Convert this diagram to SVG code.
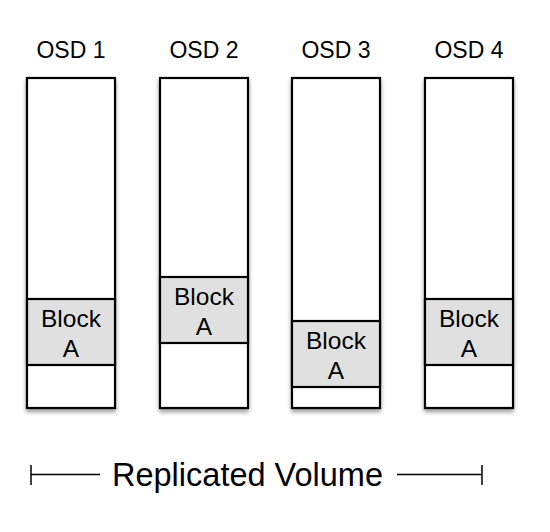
<svg xmlns="http://www.w3.org/2000/svg" width="550" height="532" viewBox="0 0 550 532">
<defs>
<filter id="sh" x="-20%" y="-20%" width="140%" height="140%">
<feGaussianBlur in="SourceAlpha" stdDeviation="2"/>
<feOffset dx="0" dy="3" result="b"/>
<feComponentTransfer><feFuncA type="linear" slope="0.4"/></feComponentTransfer>
<feMerge><feMergeNode/><feMergeNode in="SourceGraphic"/></feMerge>
</filter>
<style>
text{font-family:"Liberation Sans",Arial,sans-serif;fill:#000;text-anchor:middle}
.lbl{font-size:23px}
.blk{font-size:24.5px}
.osd{fill:#fff;stroke:#000;stroke-width:2.2}
.b{fill:#e0e0e0;stroke:#000;stroke-width:2.2}
.ln{stroke:#000;stroke-width:1.5;fill:none}
</style>
</defs>
<rect width="550" height="532" fill="#fff"/>
<g id="osd1">
<text class="lbl" x="71" y="58">OSD 1</text>
<rect class="osd" x="27" y="78" width="88" height="330" filter="url(#sh)"/>
<rect class="b" x="27" y="299" width="88" height="66"/>
<text class="blk" x="71" y="327">Block</text>
<text class="blk" x="71" y="357">A</text>
</g>
<g id="osd2">
<text class="lbl" x="204" y="58">OSD 2</text>
<rect class="osd" x="160" y="78" width="88" height="330" filter="url(#sh)"/>
<rect class="b" x="160" y="277" width="88" height="66"/>
<text class="blk" x="204" y="305">Block</text>
<text class="blk" x="204" y="335">A</text>
</g>
<g id="osd3">
<text class="lbl" x="336" y="58">OSD 3</text>
<rect class="osd" x="292" y="78" width="88" height="330" filter="url(#sh)"/>
<rect class="b" x="292" y="321" width="88" height="66"/>
<text class="blk" x="336" y="349">Block</text>
<text class="blk" x="336" y="379">A</text>
</g>
<g id="osd4">
<text class="lbl" x="469" y="58">OSD 4</text>
<rect class="osd" x="425" y="78" width="88" height="330" filter="url(#sh)"/>
<rect class="b" x="425" y="299" width="88" height="66"/>
<text class="blk" x="469" y="327">Block</text>
<text class="blk" x="469" y="357">A</text>
</g>
<g id="connectors">
<path class="ln" d="M31 465V485M31 474.5H100M397 474.5H482M482 465V485"/>
</g>
<g id="volume">
<text x="247.5" y="486" style="font-size:32.5px">Replicated Volume</text>
</g>
</svg>
